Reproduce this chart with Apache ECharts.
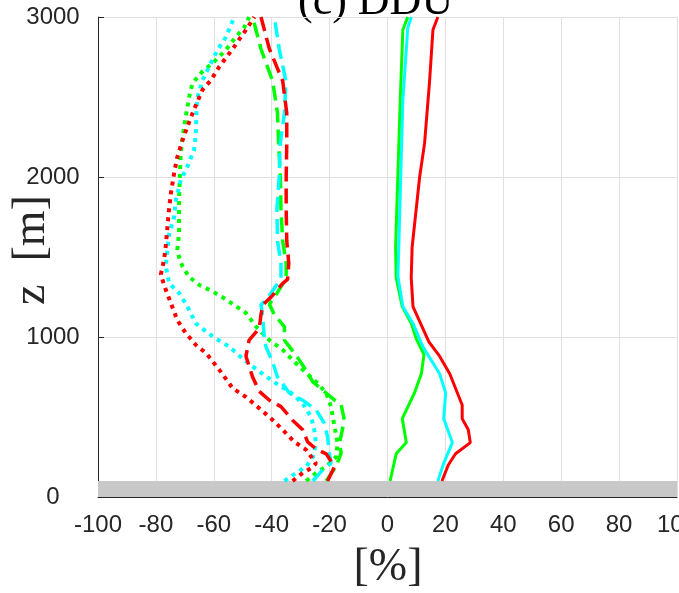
<!DOCTYPE html>
<html>
<head>
<meta charset="utf-8">
<script src="https://cdn.jsdelivr.net/npm/echarts@6/dist/echarts.min.js"></script>
<style>html,body{margin:0;padding:0;background:#fff}#c{width:679px;height:593px}</style>
</head>
<body>
<div id="c"></div>
<script>
// Tick settings
const xTicks = { min: -100, max: 100, step: 20 };
const zTicks = { min: 0, max: 3000, step: 1000 };
const groundTop = 100; // grey ground band [m]

// Solid lines: [value %, z m]
const redSolid = [[18.8,100],[21,200],[23.5,270],[28.6,340],[27.9,420],[25.8,490],[25.8,575],[21.5,770],[18,880],[14.3,970],[8.8,1190],[8.2,1370],[8.5,1560],[11.1,2000],[12.8,2210],[14.5,2590],[15.7,2920],[17.4,3000]];
const cyanSolid = [[17.4,100],[19.4,210],[22.4,340],[19.4,490],[20.1,650],[18,770],[12.2,940],[8.8,1085],[5.3,1190],[3.6,1380],[3.9,1560],[5.3,2480],[7,2930],[8.2,3000]];
const greenSolid = [[0.9,100],[3,270],[6.5,340],[5.1,490],[9.3,650],[11.7,770],[12.6,890],[9.9,990],[8.2,1085],[5.1,1190],[3,1370],[2.8,1560],[4.4,2480],[5.3,2920],[7,3000]];

// Dashed lines
const redDashed = [[-20.7,100],[-18.3,190],[-21.2,270],[-24.7,300],[-27.6,345],[-29.3,420],[-32.8,480],[-36.8,565],[-40.8,605],[-44.3,660],[-46.6,750],[-48.9,880],[-47.8,980],[-44.3,1055],[-43.7,1140],[-43.1,1200],[-39.7,1260],[-36.2,1335],[-34.5,1360],[-34.1,1460],[-34.8,1600],[-35,1800],[-35,2000],[-34.8,2200],[-34.8,2400],[-36.2,2600],[-40.8,2800],[-43.7,3000]];
const cyanDashed = [[-25.8,100],[-22.4,170],[-19.5,210],[-20.1,275],[-20.7,375],[-21.8,460],[-24.7,545],[-29.3,605],[-33.9,650],[-38,750],[-39.7,845],[-42,940],[-42.6,1000],[-43.1,1130],[-43.7,1200],[-40.8,1260],[-37.6,1345],[-36.8,1370],[-36.8,1460],[-38,1600],[-38.2,1800],[-37.4,2000],[-37.1,2200],[-35.6,2400],[-35.1,2600],[-37.4,2800],[-39.1,3000]];
const greenDashed = [[-21.2,100],[-17.8,190],[-16,275],[-16.6,335],[-14.9,480],[-16,575],[-18.9,615],[-21.2,650],[-25.8,720],[-27.6,775],[-30.4,855],[-33.9,940],[-35.6,980],[-35.6,1064],[-39.1,1140],[-40.8,1205],[-38.5,1265],[-35,1365],[-35,1460],[-36.2,1600],[-36.8,1800],[-37,2000],[-37.6,2200],[-38,2400],[-39.7,2600],[-43.7,2800],[-46.6,3000]];

// Dotted lines
const redDotted = [[-32.8,100],[-29.3,150],[-26.4,180],[-24.7,210],[-28.1,295],[-32.2,345],[-36.2,420],[-40.2,490],[-44.3,555],[-48.9,625],[-53.5,680],[-58.1,795],[-62.7,900],[-66.2,950],[-69.7,1025],[-72.6,1105],[-74.8,1210],[-76.6,1295],[-78.3,1390],[-77.2,1480],[-76.6,1565],[-76.2,1650],[-75.6,1775],[-74.8,1900],[-73.7,2025],[-72.6,2125],[-70.8,2230],[-68.5,2345],[-66.4,2440],[-63.9,2545],[-61,2605],[-58.1,2690],[-53.5,2800],[-48.9,2920],[-46,3000]];
const cyanDotted = [[-35.6,100],[-31.6,150],[-28.1,190],[-25.8,250],[-24.7,335],[-25.3,420],[-26.4,500],[-29.3,585],[-33.9,660],[-38.5,710],[-44.3,785],[-50.1,865],[-54.7,940],[-59.3,990],[-62.7,1035],[-66.2,1085],[-69.1,1190],[-72,1275],[-75.4,1335],[-76,1390],[-76.6,1440],[-76,1545],[-75.4,1645],[-73.7,1750],[-73.1,1855],[-71.4,1980],[-69.1,2065],[-66.8,2170],[-66.2,2275],[-66,2400],[-65.6,2500],[-63.9,2605],[-61.6,2690],[-58.7,2795],[-55.8,2875],[-52.9,3000]];
const greenDotted = [[-28.1,100],[-24.7,150],[-21.2,190],[-17.8,250],[-17.2,335],[-18.3,440],[-19.5,565],[-21.2,650],[-24.1,710],[-28.1,775],[-31.6,835],[-36.2,920],[-40.8,980],[-45.4,1065],[-48.9,1150],[-55.8,1235],[-60.4,1285],[-65,1325],[-68.5,1375],[-70.8,1440],[-72,1500],[-72.6,1545],[-72,1650],[-72,1855],[-71.7,2025],[-71.4,2150],[-70.8,2250],[-69.7,2375],[-68.5,2500],[-67.4,2585],[-63.9,2660],[-59.9,2720],[-55.8,2795],[-52.4,2875],[-49.5,2935],[-47.8,3000]];

const RED = '#ff0000', GREEN = '#00ff00', CYAN = '#00ffff';
const DASH = [15, 7], DOT = [4, 5];

function line(data, color, type, width) {
  return {
    type: 'line', data: data, symbol: 'none', silent: true,
    lineStyle: { color: color, width: width, type: type, cap: 'butt' },
    z: 3
  };
}

const chart = echarts.init(document.getElementById('c'), null, { renderer: 'canvas' });
const series = [
  line(greenDotted, GREEN, DOT, 4),
  line(cyanDotted, CYAN, DOT, 4),
  line(redDotted, RED, DOT, 4),
  line(greenDashed, GREEN, DASH, 3.5),
  line(cyanDashed, CYAN, DASH, 3.5),
  line(redDashed, RED, DASH, 3.5),
  line(greenSolid, GREEN, 'solid', 3),
  line(cyanSolid, CYAN, 'solid', 3),
  line(redSolid, RED, 'solid', 3)
];
series.push({
  type: 'line', data: [], symbol: 'none', silent: true,
  markArea: {
    silent: true,
    itemStyle: { color: '#c8c8c8' },
    data: [[{ xAxis: xTicks.min, yAxis: 0 }, { xAxis: xTicks.max, yAxis: groundTop }]]
  },
  z: 4
});

chart.setOption({
  animation: false,
  backgroundColor: '#ffffff',
  grid: { left: 98, right: 2, top: 17, bottom: 96, containLabel: false, outerBoundsMode: 'none' },
  xAxis: {
    type: 'value', min: xTicks.min, max: xTicks.max, interval: xTicks.step,
    axisLine: { show: true, onZero: false, lineStyle: { color: '#262626', width: 1 } },
    axisTick: { show: false },
    axisLabel: { fontFamily: 'Liberation Sans', fontSize: 24, color: '#262626', margin: 16, showMaxLabel: true, showMinLabel: true,
      formatter: v => String(v) },
    splitLine: { show: true, lineStyle: { color: '#e0e0e0', width: 1 } }
  },
  yAxis: {
    type: 'value', min: zTicks.min, max: zTicks.max, interval: zTicks.step,
    axisLine: { show: true, onZero: false, lineStyle: { color: '#262626', width: 1 } },
    axisTick: { show: true, inside: true, length: 6, lineStyle: { color: '#262626' } },
    axisLabel: { fontFamily: 'Liberation Sans', fontSize: 24, color: '#262626', margin: 45, align: 'center',
      formatter: v => String(v) },
    splitLine: { show: true, lineStyle: { color: '#e0e0e0', width: 1 } }
  },
  graphic: [
    { type: 'text', left: 298, top: -20, silent: true,
      style: { text: '(c) DDU', fontFamily: 'Liberation Serif', fontSize: 44, fill: '#000' } },
    { type: 'text', x: 32, y: 250, rotation: Math.PI / 2, silent: true,
      style: { text: 'z  [m]', fontFamily: 'Liberation Serif', fontSize: 46, fill: '#262626', align: 'center', verticalAlign: 'middle' } },
    { type: 'text', x: 388, y: 568, silent: true,
      style: { text: '[%]', fontFamily: 'Liberation Serif', fontSize: 46, fill: '#262626', align: 'center', verticalAlign: 'middle' } }
  ],
  series: series
});
</script>
</body>
</html>
